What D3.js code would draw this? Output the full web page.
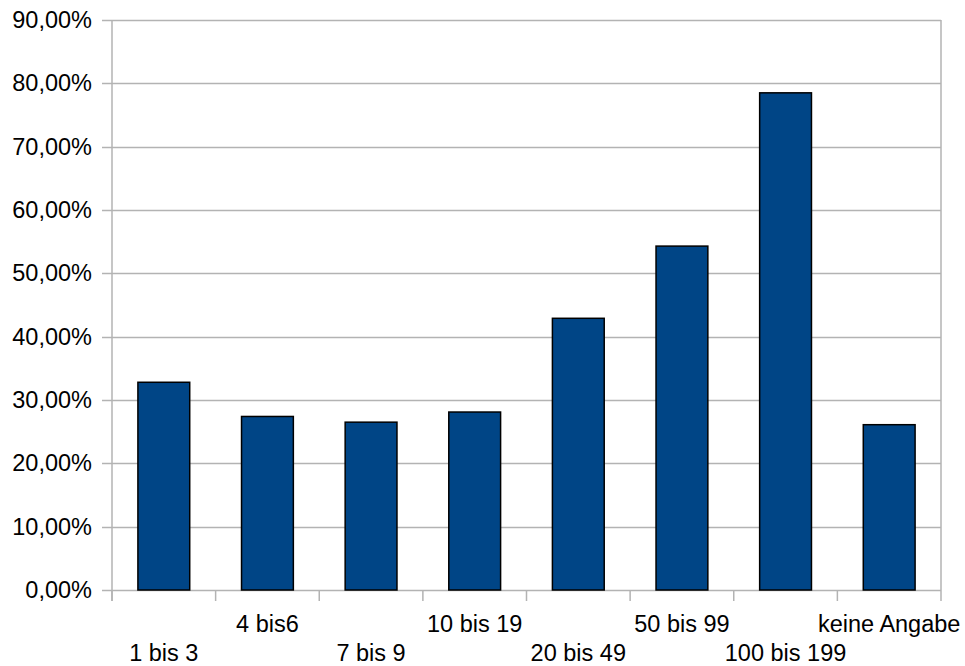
<!DOCTYPE html>
<html>
<head>
<meta charset="utf-8">
<script src="https://cdn.jsdelivr.net/npm/d3@7"></script>
<style>
  html, body { margin: 0; padding: 0; background: #fff; }
  svg { display: block; }
  text { font-family: "Liberation Sans", Arial, sans-serif; fill: #000; }
</style>
</head>
<body>
<svg id="chart" width="965" height="666"></svg>
<script>
// Share per company-size class
const categories = ["1 bis 3", "4 bis6", "7 bis 9", "10 bis 19", "20 bis 49", "50 bis 99", "100 bis 199", "keine Angabe"];
const values = [0.328, 0.274, 0.265, 0.281, 0.429, 0.543, 0.785, 0.261];
const yTicks = [0, 0.1, 0.2, 0.3, 0.4, 0.5, 0.6, 0.7, 0.8, 0.9];

const svg = d3.select("#chart");
const margin = { left: 112, right: 24, top: 20, bottom: 76 };
const W = 965, H = 666;
const x0 = margin.left, x1 = W - margin.right;
const yTop = margin.top, yBot = H - margin.bottom;
const fontSize = 23.5;

const x = d3.scaleBand().domain(categories).range([x0, x1]).paddingInner(0.5).paddingOuter(0.25);
const bandStep = x.step();
const y = d3.scaleLinear().domain([0, 0.9]).range([yBot, yTop]);

const fmt = v => d3.format(".2f")(v * 100).replace(".", ",") + "%";
const grid = "#b3b3b3";

// horizontal gridlines
svg.append("g").selectAll("line").data(yTicks).join("line")
  .attr("x1", x0 - 10).attr("x2", x1)
  .attr("y1", d => Math.round(y(d)) + 0.5).attr("y2", d => Math.round(y(d)) + 0.5)
  .attr("stroke", grid).attr("stroke-width", 1.5);

// right border of the plot area
svg.append("line")
  .attr("x1", x1).attr("x2", x1).attr("y1", yTop).attr("y2", yBot)
  .attr("stroke", grid).attr("stroke-width", 1.5);

// y axis
const yAxis = d3.axisLeft(y).tickValues(yTicks).tickFormat(fmt).tickSize(0).tickPadding(20);
const gy = svg.append("g").attr("transform", `translate(${x0},0)`).call(yAxis);
gy.select(".domain").remove();
gy.selectAll("text").attr("font-size", fontSize).style("font-family", "'Liberation Sans', Arial, sans-serif");
svg.append("line")
  .attr("x1", x0).attr("x2", x0).attr("y1", yTop).attr("y2", yBot + 11)
  .attr("stroke", grid).attr("stroke-width", 1.5);

// x ticks at band boundaries
const boundaries = d3.range(categories.length + 1).map(i => x0 + i * bandStep);
svg.append("g").selectAll("line").data(boundaries).join("line")
  .attr("x1", d => d).attr("x2", d => d)
  .attr("y1", yBot).attr("y2", yBot + 11)
  .attr("stroke", grid).attr("stroke-width", 1.5);

// bars
svg.append("g").selectAll("rect").data(values).join("rect")
  .attr("x", (d, i) => x(categories[i]))
  .attr("width", x.bandwidth())
  .attr("y", d => y(d))
  .attr("height", d => yBot - y(d))
  .attr("fill", "#004586")
  .attr("stroke", "#000").attr("stroke-width", 1.5);

// staggered category labels
svg.append("g").selectAll("text").data(categories).join("text")
  .attr("x", d => x(d) + x.bandwidth() / 2)
  .attr("y", (d, i) => i % 2 === 0 ? 661 : 632)
  .attr("text-anchor", "middle")
  .attr("font-size", fontSize)
  .text(d => d);
</script>
</body>
</html>
